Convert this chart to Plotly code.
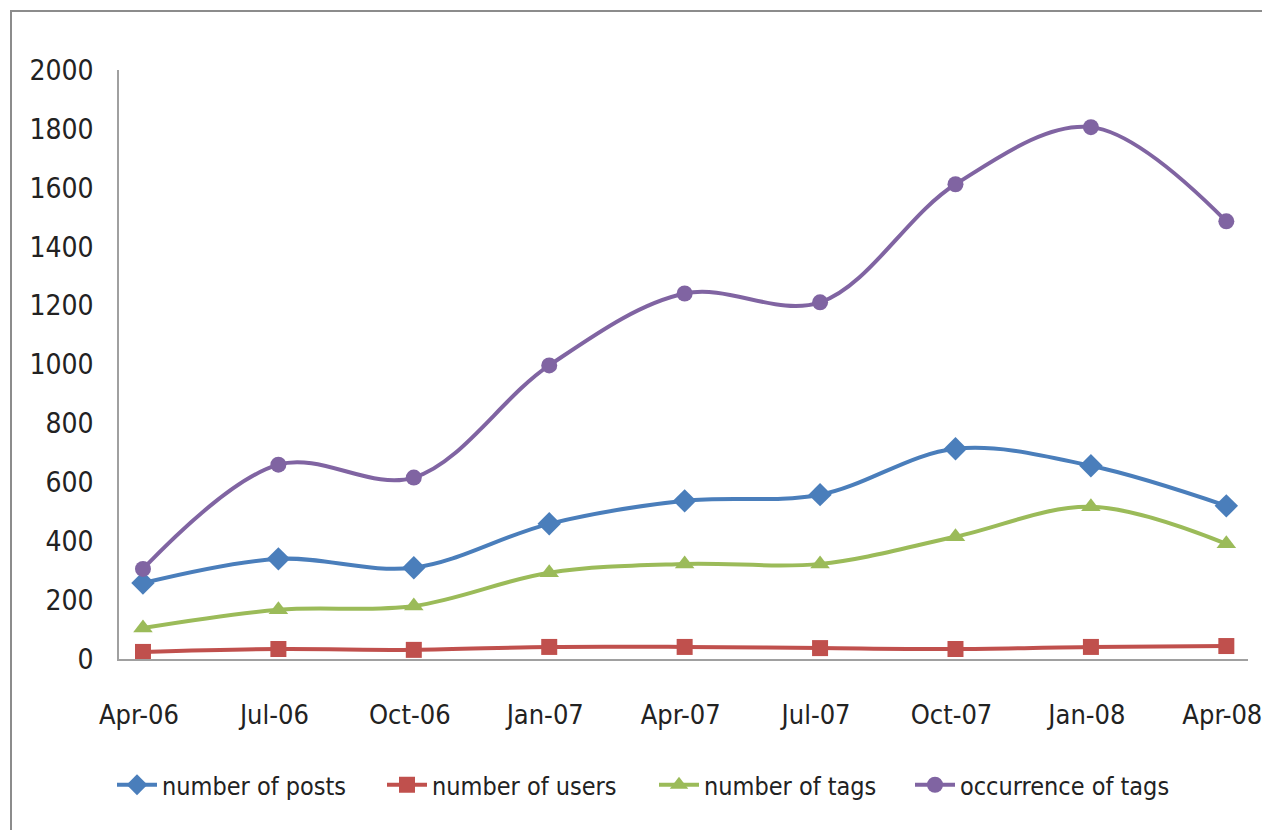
import plotly.graph_objects as go

categories = ["Apr-06", "Jul-06", "Oct-06", "Jan-07", "Apr-07", "Jul-07", "Oct-07", "Jan-08", "Apr-08"]
posts = [258, 340, 310, 459, 537, 558, 714, 656, 520]
users = [24, 34, 31, 41, 41, 37, 34, 41, 44]
tags = [105, 167, 180, 293, 323, 323, 415, 517, 391]
occurrence = [306, 660, 616, 997, 1241, 1211, 1612, 1806, 1486]
y_ticks = list(range(0, 2001, 200))

names = ["number of posts", "number of users", "number of tags", "occurrence of tags"]
series = [posts, users, tags, occurrence]
colors = ["#4A7EBB", "#C0504D", "#9BBB59", "#8064A2"]
symbols = ["diamond", "square", "triangle-up", "circle"]
msizes = [18, 16, 17, 16]
legend_ids = ["legend", "legend2", "legend3", "legend4"]
legend_left_px = [112, 382, 654, 910]  # screen px of each legend entry's left edge

FONT = "Liberation Sans Narrow, DejaVu Sans Condensed, Arial Narrow, sans-serif"

fig = go.Figure()
x_idx = list(range(len(categories)))
for name, vals, col, sym, ms, lid in zip(names, series, colors, symbols, msizes, legend_ids):
    fig.add_trace(go.Scatter(
        x=x_idx, y=vals, name=name, mode="lines+markers", legend=lid,
        line=dict(color=col, width=4, shape="spline", smoothing=1),
        marker=dict(color=col, symbol=sym, size=ms),
    ))

# body margin is removed via post_script, so figure pixels == screen pixels
W, H = 1262, 830
L, R, T = 119, 14, 70
PLOT_BOTTOM = 659
B = H - PLOT_BOTTOM
pw = W - L - R
ph = H - T - B

def px_x(p):
    return (p - L) / pw

def px_y(p):
    return (PLOT_BOTTOM - p) / ph

legend_layouts = {}
for lid, lx in zip(legend_ids, legend_left_px):
    legend_layouts[lid] = dict(
        orientation="h", x=px_x(lx), xanchor="left", y=px_y(785), yanchor="middle",
        font=dict(family=FONT, size=25, color="#222222"),
        itemwidth=40, bgcolor="rgba(0,0,0,0)",
    )

fig.update_layout(
    width=W, height=H,
    margin=dict(l=L, r=R, t=T, b=B, autoexpand=False),
    paper_bgcolor="white", plot_bgcolor="white",
    font=dict(family=FONT, size=28, color="#222222"),
    showlegend=True,
    xaxis=dict(
        range=[-0.177, 8.16], tickmode="array", tickvals=x_idx, ticktext=categories,
        tickfont=dict(family=FONT, size=27, color="#222222"),
        showgrid=False, zeroline=False, showline=True, linecolor="#A0A0A0", linewidth=1.5,
        ticks="", ticklabelstandoff=31, ticklabelshift=-4, ticklabeloverflow="allow",
        automargin=False, fixedrange=True,
    ),
    yaxis=dict(
        range=[0, 2000], tickvals=y_ticks,
        showgrid=False, zeroline=False, showline=True, linecolor="#A0A0A0", linewidth=1.5,
        ticks="", ticklabelstandoff=18, automargin=False, fixedrange=True,
    ),
    shapes=[dict(type="rect", xref="paper", yref="paper",
                 x0=px_x(11), x1=px_x(1300), y0=px_y(860), y1=px_y(11),
                 line=dict(color="#8C8C8C", width=2), fillcolor="rgba(0,0,0,0)", layer="below")],
    **legend_layouts,
)

fig.write_html(
    "out.html",
    config={"displayModeBar": False},
    post_script="document.body.style.margin='0';document.body.style.overflow='hidden';"
                "document.documentElement.style.overflow='hidden';",
)
